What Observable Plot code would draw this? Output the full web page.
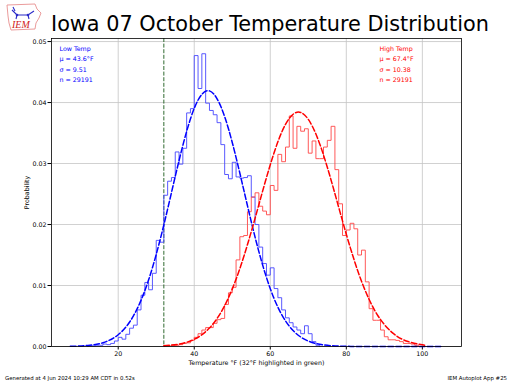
<!DOCTYPE html>
<html><head><meta charset="utf-8">
<script src="https://cdn.jsdelivr.net/npm/d3@7"></script>
<script src="https://cdn.jsdelivr.net/npm/@observablehq/plot@0.6"></script>
<style>
body{margin:0;background:#fff;}
#wrap{position:relative;width:512px;height:384px;overflow:hidden;font-family:"DejaVu Sans",sans-serif;}
#chart{position:absolute;left:0;top:0;}
#title{position:absolute;left:51px;top:12px;font-size:20.8px;line-height:24px;white-space:nowrap;color:#000;}
.foot{position:absolute;top:375px;font-size:5.4px;line-height:7px;color:#000;white-space:nowrap;}
#logo{position:absolute;left:4px;top:2px;}
</style></head><body>
<div id="wrap">
<div id="chart"></div>
<svg id="logo" width="40" height="32" viewBox="0 0 40 32">
 <path d="M3,3 L31,2 L33,7 L37,11 L35,16 L32,21 L31,27 L7,28 L5,21 L4,14 Z" fill="#fff" stroke="#e89090" stroke-width="0.9"/>
 <path d="M8,8 L13,13 L24,13 L30,9 M13,13 L12,17 M24,13 L25,17 M9,5 L11,9" stroke="#2a2ac8" stroke-width="1.1" fill="none"/>
 <circle cx="13" cy="13" r="1.3" fill="#2a2ac8"/><circle cx="24" cy="13" r="1.3" fill="#2a2ac8"/>
 <text x="8" y="26" font-family="Liberation Serif" font-style="italic" font-size="10" fill="#d02020">IEM</text>
</svg>
<div id="title">Iowa 07 October Temperature Distribution</div>
<div class="foot" style="left:5px">Generated at 4 Jun 2024 10:29 AM CDT in 0.52s</div>
<div class="foot" style="right:5px">IEM Autoplot App #25</div>
</div>
<script>
// Histogram probabilities (1 °F bins)
const lowStart = 12;
const lowProb = [0.0001,0.0001,0.0002,0.0002,0.0004,0.0003,0.0005,0.0009,0.0015,0.0012,
  0.0020,0.0030,0.0035,0.0060,0.0084,0.0105,0.0093,0.0120,0.0174,0.0171,
  0.0248,0.0271,0.0277,0.0319,0.0299,0.0325,0.0383,0.0390,0.0477,0.0423,
  0.0480,0.0399,0.0387,0.0380,0.0367,0.0331,0.0282,0.0275,0.0302,0.0278,
  0.0276,0.0277,0.0280,0.0245,0.0200,0.0163,0.0136,0.0117,0.0129,0.0095,
  0.0080,0.0060,0.0047,0.0039,0.0032,0.0027,0.0021,0.0034,0.0021,0.0008,0.0002];
const highStart = 32;
const highProb = [0.0001,0.0001,0.0002,0.0002,0.0003,0.0005,0.0006,0.0010,0.0015,0.0021,
  0.0027,0.0031,0.0031,0.0038,0.0044,0.0046,0.0069,0.0088,0.0097,0.0142,
  0.0180,0.0182,0.0221,0.0245,0.0252,0.0230,0.0222,0.0216,0.0264,0.0256,
  0.0315,0.0303,0.0327,0.0378,0.0325,0.0361,0.0353,0.0357,0.0317,0.0337,
  0.0308,0.0308,0.0327,0.0338,0.0361,0.0290,0.0234,0.0182,0.0191,0.0202,
  0.0193,0.0150,0.0158,0.0106,0.0062,0.0043,0.0043,0.0027,0.0016,0.0011,
  0.0011,0.0010,0.0008,0.0005,0.0005,0.0004,0.0002];
// Fitted normal curves
const lowFitTemps = [7.4,12,16,20,24,28,32,36,40,44,48,52,56,60,64,68,72,76,80,84,88,92,96,100,105.4];
const lowFitProb  = [0.00003,0.00017,0.00062,0.00193,0.00501,0.01093,0.01994,0.03049,0.03905,0.04191,0.03769,0.02840,0.01793,0.00948,0.00420,0.00156,0.00049,0.00013,0.00003,0,0,0,0,0,0];
const highFitTemps = [32,36,40,44,48,52,56,60,64,68,72,76,80,84,88,92,96,100,100.5];
const highFitProb  = [0.000115,0.000396,0.00118,0.00303,0.00670,0.01279,0.02103,0.02981,0.03642,0.03837,0.03484,0.02727,0.01840,0.01070,0.00536,0.00232,0.000864,0.000277,0.00024];
// Stats
const lowMu = "43.6", lowSigma = "9.51", lowN = "29191";
const highMu = "67.4", highSigma = "10.38", highN = "29191";
const freezeF = 32;
const xTicks = [20,40,60,80,100];
const yTicks = [0,0.01,0.02,0.03,0.04,0.05];

function stepPoints(start, probs){
  const pts = [{t:start, p:0}];
  probs.forEach((p,i)=>pts.push({t:start+i, p}));
  pts.push({t:start+probs.length, p:probs[probs.length-1]});
  pts.push({t:start+probs.length, p:0});
  return pts;
}
const lowHist = stepPoints(lowStart, lowProb);
const highHist = stepPoints(highStart, highProb);
const lowFit = lowFitTemps.map((t,i)=>({t, p:lowFitProb[i]}));
const highFit = highFitTemps.map((t,i)=>({t, p:highFitProb[i]}));
const lowLabel = `Low Temp\nμ = ${lowMu}°F\nσ = ${lowSigma}\nn = ${lowN}`;
const highLabel = `High Temp\nμ = ${highMu}°F\nσ = ${highSigma}\nn = ${highN}`;

const chart = Plot.plot({
  width:512, height:384,
  marginTop:38, marginBottom:38, marginLeft:51, marginRight:51,
  style:{fontFamily:"DejaVu Sans", fontSize:"6.3px", background:"transparent", color:"#000"},
  x:{domain:[2.45,110.3], ticks:xTicks, tickFormat:d=>String(d), label:"Temperature °F (32°F highlighted in green)",
     labelAnchor:"center", labelOffset:18, labelArrow:"none", tickSize:3.5, tickPadding:2},
  y:{domain:[0,0.0505], ticks:yTicks, tickFormat:d=>d.toFixed(2), label:"Probability",
     labelAnchor:"center", labelOffset:27, labelArrow:"none", tickSize:3.5, tickPadding:1.5},
  marks:[
    Plot.gridX(xTicks,{stroke:"#c4c4c4", strokeOpacity:1, strokeWidth:0.8}),
    Plot.gridY(yTicks,{stroke:"#c4c4c4", strokeOpacity:1, strokeWidth:0.8}),
    Plot.ruleX([freezeF],{stroke:"#1a5a1a", strokeWidth:0.9, strokeDasharray:"4,1.6"}),
    Plot.line(lowHist,{x:"t", y:"p", curve:"step-after", stroke:"#4646ff", strokeWidth:0.9}),
    Plot.line(highHist,{x:"t", y:"p", curve:"step-after", stroke:"#ff4646", strokeWidth:0.9}),
    Plot.line(lowFit,{x:"t", y:"p", curve:"natural", stroke:"blue", strokeWidth:1.5, strokeDasharray:"5.5,2.4"}),
    Plot.line(highFit,{x:"t", y:"p", curve:"natural", stroke:"red", strokeWidth:1.5, strokeDasharray:"5.5,2.4"}),
    Plot.frame({stroke:"#000", strokeWidth:0.8}),
    Plot.text([lowLabel],{text:d=>d, frameAnchor:"top-left", textAnchor:"start", lineAnchor:"top", dx:8, dy:5, lineHeight:1.65, fill:"blue", fontSize:6.3}),
    Plot.text([highLabel],{text:d=>d, frameAnchor:"top-right", textAnchor:"start", lineAnchor:"top", dx:-82, dy:5, lineHeight:1.65, fill:"red", fontSize:6.3})
  ]
});
document.getElementById("chart").appendChild(chart);
</script>
</body></html>
